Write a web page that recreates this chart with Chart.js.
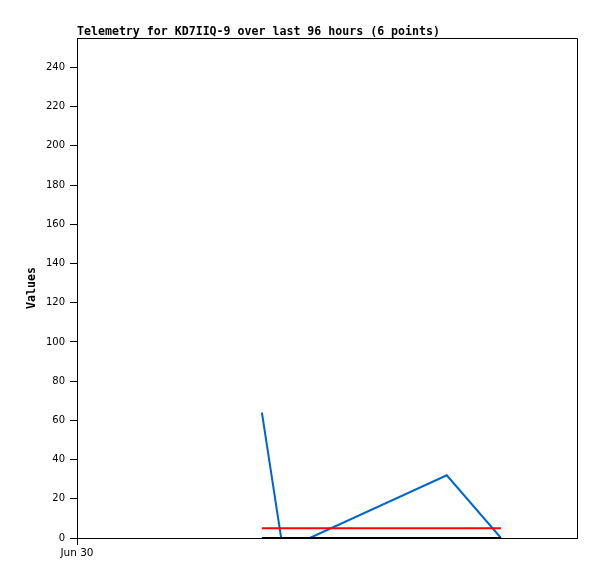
<!DOCTYPE html>
<html><head><meta charset="utf-8">
<script src="https://cdn.jsdelivr.net/npm/chart.js@4"></script>
<style>html,body{margin:0;padding:0;background:#fff}#wrap{width:597px;height:579px}</style>
</head><body><div id="wrap"><canvas id="c"></canvas></div>
<script>
const titleText = "Telemetry for KD7IIQ-9 over last 96 hours (6 points)";
const yTitle = "Values";
const hours = [35.5, 39.2, 42.0, 44.7, 71.0, 81.4];
const seriesBlue = [64, 0, 0, 0, 32, 0];
const seriesRed = [5, 5, 5, 5, 5, 5];
const seriesBlack = [0, 0, 0, 0, 0, 0];
const xTickValues = [0];
const xTickLabels = ["Jun 30"];

const pts = arr => hours.map((h,i)=>({x:h,y:arr[i]}));

const framePlugin = {
  id:'frame',
  afterDraw(chart){
    const {ctx, chartArea:a} = chart;
    ctx.save();
    ctx.strokeStyle='#000'; ctx.lineWidth=1;
    ctx.beginPath();
    ctx.moveTo(a.left, a.top+0.5); ctx.lineTo(a.right+0.5, a.top+0.5); ctx.lineTo(a.right+0.5, a.bottom);
    ctx.stroke();
    ctx.fillStyle='#000';
    ctx.font='bold 11.6px "DejaVu Sans Mono", monospace';
    ctx.textBaseline='alphabetic'; ctx.textAlign='left';
    ctx.fillText(titleText, a.left, 35);
    ctx.restore();
  }
};

new Chart(document.getElementById('c'), {
  type:'line',
  data:{datasets:[
    {data:pts(seriesBlue), borderColor:'#0066cc', borderWidth:2, pointRadius:0, tension:0, order:3},
    {data:pts(seriesRed), borderColor:'#ff0000', borderWidth:2, pointRadius:0, tension:0, order:2},
    {data:pts(seriesBlack), borderColor:'#000000', borderWidth:2, pointRadius:0, tension:0, order:1}
  ]},
  options:{
    responsive:true, maintainAspectRatio:false, animation:false,
    layout:{padding:{top:38,right:20,left:0,bottom:0}},
    plugins:{legend:{display:false}, tooltip:{enabled:false}},
    scales:{
      x:{type:'linear', min:0, max:96,
        afterBuildTicks(s){ s.ticks = xTickValues.map(v=>({value:v})); },
        afterFit(s){ s.height = 41; },
        ticks:{autoSkip:false, maxRotation:0, color:'#000', font:{family:'"DejaVu Sans", sans-serif', size:10.5}, padding:2,
          callback:(v)=>{const i=xTickValues.indexOf(v); return i>=0?xTickLabels[i]:'';}},
        grid:{drawOnChartArea:false, drawTicks:true, tickLength:7, color:'#000'},
        border:{display:true, color:'#000', width:1}
      },
      y:{min:0, max:255,
        afterBuildTicks(s){ const t=[]; for(let v=0; v<=240; v+=20) t.push({value:v}); s.ticks=t; },
        afterFit(s){ s.width = 77; },
        ticks:{color:'#000', font:{family:'"DejaVu Sans", sans-serif', size:10}, padding:5},
        grid:{drawOnChartArea:false, drawTicks:true, tickLength:7, color:'#000'},
        border:{display:true, color:'#000', width:1},
        title:{display:true, text:yTitle, color:'#000', font:{family:'"DejaVu Sans Mono", monospace', size:11.6, weight:'bold'}, padding:{top:25,bottom:0}}
      }
    }
  },
  plugins:[framePlugin]
});
</script></body></html>
